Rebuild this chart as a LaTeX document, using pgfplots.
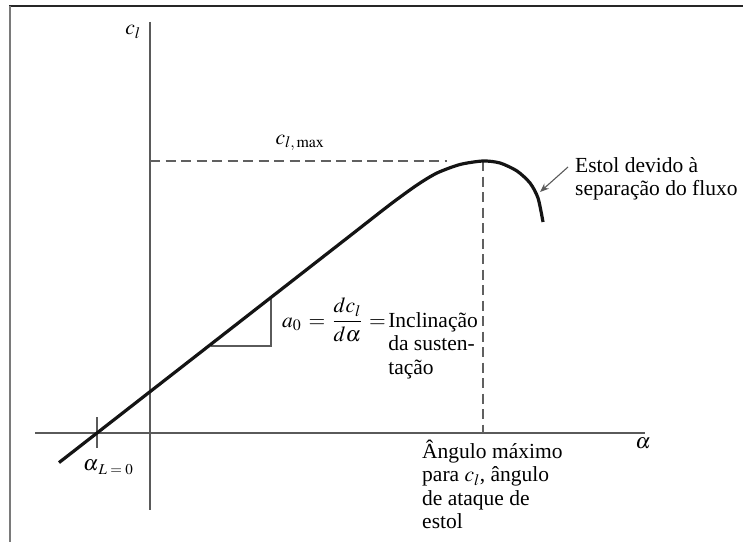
\documentclass[border=0pt]{standalone}
\usepackage{mathptmx}
\usepackage{fontspec}
\setmainfont{Liberation Serif}
\usepackage{pgfplots}
\pgfplotsset{compat=1.18}
\usetikzlibrary{arrows.meta}

\definecolor{axisgray}{HTML}{5A5A5A}
\definecolor{dashgray}{HTML}{606060}
\definecolor{framegray}{HTML}{7A7A7A}

\begin{document}
\begin{tikzpicture}
\begin{axis}[
  name=ax,
  scale only axis,
  width=743pt, height=542pt,
  xmin=-150, xmax=593,
  ymin=-109, ymax=433,
  hide axis,
  clip=false,
  font=\fontsize{21.5}{23.5}\selectfont,
]
% frame of the figure (top and left edges)
\addplot[color=black!85, line width=2.2pt] coordinates {(-141,427) (593,427)};
\addplot[color=framegray, line width=2pt] coordinates {(-140.5,427) (-140.5,-109)};

% alpha and c_l axes
\addplot[color=axisgray, line width=1.3pt] coordinates {(-115,0) (495,0)};
\addplot[color=axisgray, line width=1.3pt] coordinates {(0,411) (0,-77)};
% zero-lift angle tick
\addplot[color=axisgray, line width=1.3pt] coordinates {(-53,16) (-53,-15)};

% c_l,max and stall angle guides
\addplot[color=dashgray, line width=1.3pt, dash pattern=on 10pt off 5.5pt]
  coordinates {(0,272) (297,272)};
\addplot[color=dashgray, line width=1.3pt, dash pattern=on 10pt off 5.5pt]
  coordinates {(333,272) (333,0)};

% slope triangle
\addplot[color=axisgray, line width=1.1pt] coordinates {(61,87) (121,87) (121,134)};

% lift curve: linear range, then stall
\addplot[color=black!92, line width=3.2pt, smooth, tension=0.45] coordinates {
  (-91,-29.6) (-53,0) (0,41.3) (62,89.6) (121,135.6) (200,197.2)
  (240,228.4) (267,248) (287,260) (310,268.5) (333,272) (350,270)
  (367,262) (380,250) (388,235) (393,211)
};

% annotations
\draw[color=axisgray, line width=1.1pt, -{Stealth[length=9pt,width=7pt]}]
  (axis cs:418,266) -- (axis cs:390,241);
\node[anchor=center] at (axis cs:-17,401) {$c_l$};
\node[anchor=center] at (axis cs:150,290) {$c_{l,\,\mathrm{max}}$};
\node[anchor=base west, inner sep=0pt] at (axis cs:-67,-37)
  {$\alpha$\raisebox{-4pt}{\fontsize{15}{15}\selectfont$L = 0$}};
\node[anchor=center] at (axis cs:493,-10) {$\alpha$};
\node[anchor=base west, inner sep=0pt] at (axis cs:425,261)
  {\begin{tabular}[t]{@{}l@{}}Estol devido à\\separação do fluxo\end{tabular}};
\node[anchor=base west, inner sep=0pt] at (axis cs:132,106)
  {$a_0 \,=\, \displaystyle\frac{dc_l}{d\alpha} \,=\,$\begin{tabular}[t]{@{}l@{}}Inclinação\\da susten-\\tação\end{tabular}};
\node[anchor=base west, inner sep=0pt] at (axis cs:272,-25)
  {\begin{tabular}[t]{@{}l@{}}Ângulo máximo\\para $c_l$, ângulo\\de ataque de\\estol\end{tabular}};
\end{axis}
\pgfresetboundingbox
\path (ax.south west) rectangle (ax.north east);
\end{tikzpicture}
\end{document}
